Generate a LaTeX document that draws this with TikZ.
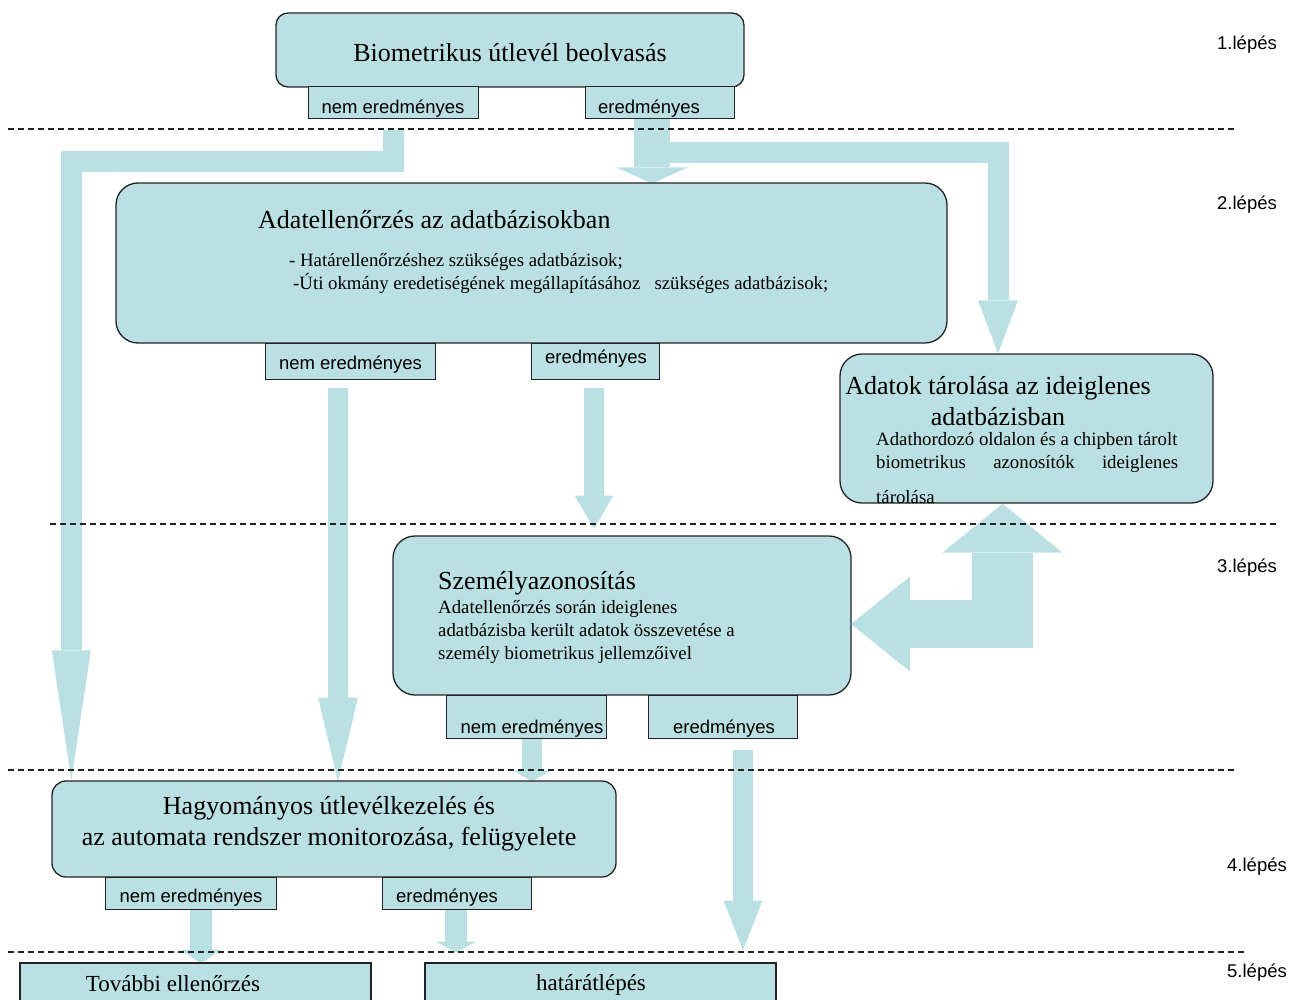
\documentclass[tikz,border=0pt]{standalone}
\usepackage{fontspec}
\setmainfont{Liberation Serif}
\setsansfont{Liberation Sans}
\usetikzlibrary{arrows.meta,backgrounds}

\definecolor{halvany}{RGB}{187,224,227}
\definecolor{keret}{RGB}{35,35,35}

\tikzset{
  doboz/.style={draw=keret, fill=halvany, line width=1.3pt, inner sep=0pt},
  ful/.style={draw=keret, fill=halvany, line width=1pt, inner sep=0pt},
  fulbetu/.style={font=\sffamily\fontsize{18.5pt}{22pt}\selectfont, inner sep=0pt},
  lepes/.style={font=\sffamily\fontsize{18.5pt}{22pt}\selectfont, inner sep=0pt},
  cim/.style={font=\fontsize{26pt}{31pt}\selectfont, inner sep=0pt},
  szoveg/.style={font=\fontsize{18.8pt}{23pt}\selectfont, inner sep=0pt},
  nyil/.style={draw=halvany, line width=#1, line join=miter},
  hegy/.style 2 args={-{Triangle[width=#1,length=#2,line width=0pt]}},
  szaggatott/.style={draw=keret, line width=1.2pt, dash pattern=on 6pt off 4pt}
}

\begin{document}
\begin{tikzpicture}[x=1pt, y=-1pt]
\useasboundingbox (0,0) rectangle (1289,1000);

% dobozok
\node[doboz, rounded corners=12pt, minimum width=468pt, minimum height=74pt] (b1) at (510,50) {};
\node[cim] (b1sz) at (510,53) {Biometrikus útlevél beolvasás};

\node[doboz, rounded corners=22pt, minimum width=831pt, minimum height=160pt] (b2) at (531.5,263) {};
\node[cim, anchor=base west] (b2cim) at (258,228.5) {Adatellenőrzés az adatbázisokban};
\node[szoveg, align=left, anchor=north west] (b2sz) at (289,253)
  {- Határellenőrzéshez szükséges adatbázisok;\\\hspace*{4pt}-Úti okmány eredetiségének megállapításához\ \ \ szükséges adatbázisok;};

\node[doboz, rounded corners=22pt, minimum width=373pt, minimum height=149pt] (b3) at (1026.5,428.5) {};
\node[cim, align=center, anchor=north] (b3cim) at (998,376) {Adatok tárolása az ideiglenes\\adatbázisban};
\node[szoveg, align=left, anchor=north west] (b3sz) at (876,432)
  {Adathordozó oldalon és a chipben tárolt\\\makebox[302pt][s]{biometrikus azonosítók ideiglenes}\\[12pt]tárolása};

\node[doboz, rounded corners=22pt, minimum width=458pt, minimum height=159pt] (b4) at (622,615.5) {};
\node[cim, anchor=base west] (b4cim) at (438,589) {Személyazonosítás};
\node[szoveg, align=left, anchor=north west] (b4sz) at (438,600.5)
  {Adatellenőrzés során ideiglenes\\adatbázisba került adatok összevetése a\\személy biometrikus jellemzőivel};

\node[doboz, rounded corners=14pt, minimum width=564pt, minimum height=96pt] (b5) at (334,829) {};
\node[cim, align=center, anchor=north] (b5sz) at (329,796)
  {Hagyományos útlevélkezelés és\\az automata rendszer monitorozása, felügyelete};

\node[doboz, minimum width=351pt, minimum height=60pt] (b6) at (195.5,993) {};
\node[font=\fontsize{23pt}{27pt}\selectfont, inner sep=0pt] (b6sz) at (173,984) {További ellenőrzés};
\node[doboz, minimum width=351pt, minimum height=60pt] (b7) at (600.5,993) {};
\node[font=\fontsize{23pt}{27pt}\selectfont, inner sep=0pt] (b7sz) at (591,985) {határátlépés};

% fulek
\foreach \nev/\kx/\ky/\sz/\ma/\tx/\ty/\felirat in {
  t1n/393/103/170pt/32pt/393/109/nem eredményes,
  t1e/659.5/103/149pt/32pt/649/109/eredményes,
  t2n/350/361/170pt/36pt/350.5/365/nem eredményes,
  t2e/595/361/128pt/36pt/596/359/eredményes,
  t4n/526/716.5/160pt/43pt/532/729/nem eredményes,
  t4e/722.5/716.5/149pt/43pt/724/729/eredményes,
  t5n/190.5/893/171pt/32pt/191/898/nem eredményes,
  t5e/456.5/893/149pt/32pt/447/898/eredményes}
{
  \node[ful, minimum width=\sz, minimum height=\ma] (\nev) at (\kx,\ky) {};
  \node[fulbetu] (\nev sz) at (\tx,\ty) {\felirat};
}

% lepesek
\foreach \lep/\lx/\ly in {1/1247/45, 2/1247/205, 3/1247/568, 4/1257/867, 5/1257/973}
  \node[lepes] (lepes\lep) at (\lx,\ly) {\lep.lépés};

% nyilak
\begin{scope}[on background layer]
\draw[nyil=21pt, hegy={39pt}{130pt}] (t1n.south) ++(0,11) -- ++(0,31.5) -| ([xshift=20pt]b5.north west);
\draw[nyil=21pt, hegy={40pt}{53pt}] (t1e.south) ++(-7.5,33.5) -| ([xshift=-28.5pt]b3.north);
\foreach \honnan/\ex/\ey/\hossz/\vast/\hsz/\hh in {
  t1e/-7.5/0/64/36pt/71pt/16pt,
  t2n/-12/8/394/20pt/40pt/84pt,
  t2e/-1/8/141/20pt/39pt/33pt,
  t4n/6/0/43/20pt/38pt/11pt,
  t4e/20.5/11/201/20pt/39pt/50pt,
  t5n/10.5/0/54/22pt/41pt/14pt,
  t5e/-0.5/0/43/22pt/41pt/11pt}
  \draw[nyil=\vast, hegy={\hsz}{\hh}] (\honnan.south) ++(\ex,\ey) -- ++(0,\hossz);
\coordinate (sarok) at (1033,648);
\draw[nyil=61pt, hegy={120pt}{49pt}] (sarok) ++(-30.5,0) -- ([xshift=-24pt]b3.south);
\draw[nyil=48pt, hegy={95pt}{59pt}] (sarok) ++(0,-24) -- ++(-182,0);
\end{scope}

% szaggatott vonalak
\foreach \vy/\xa/\xb in {129/8/1235, 524/50/1278, 770/8/1235, 952/8/1245}
  \draw[szaggatott] (\xa,\vy) -- (\xb,\vy);
\end{tikzpicture}
\end{document}
